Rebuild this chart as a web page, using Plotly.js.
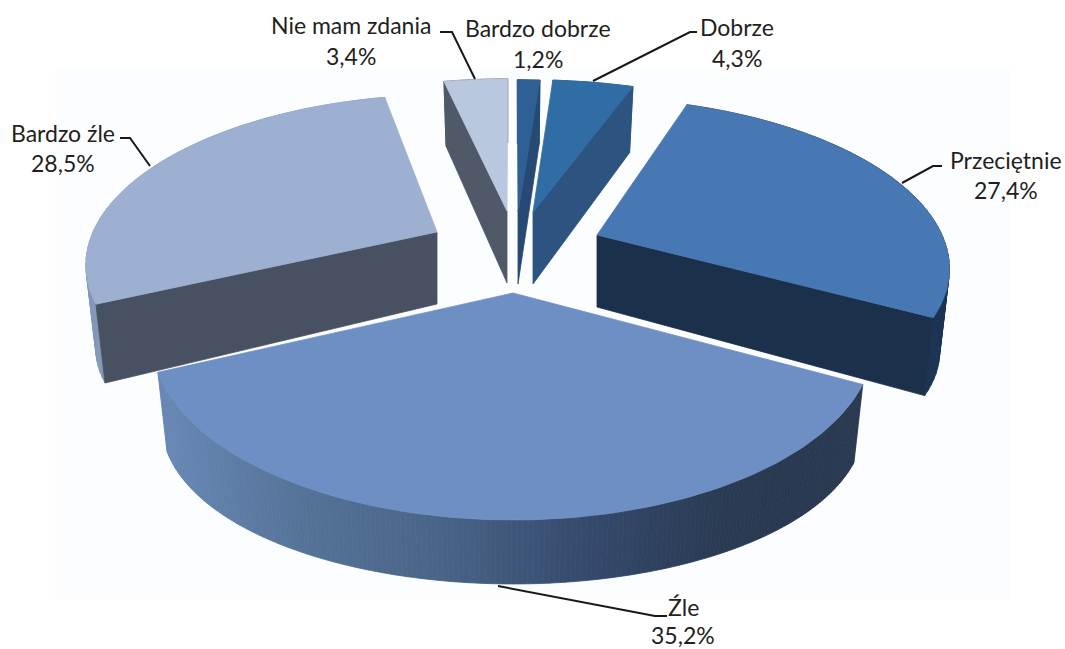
<!DOCTYPE html>
<html><head><meta charset="utf-8">
<script src="https://cdn.plot.ly/plotly-3.0.1.min.js"></script>
<style>html,body{margin:0;padding:0;background:#fff}#c{width:1065px;height:649px}</style>
</head><body><div id="c"></div>
<script>
// Data
const categories = ["Bardzo dobrze","Dobrze","Przeciętnie","Źle","Bardzo źle","Nie mam zdania"];
const shares = [1.2,4.3,27.4,35.2,28.5,3.4];

// Style and layout (one entry per category)
const topColors = ["#2f6095","#316da5","#4778b3","#6d8fc4","#9db0d1","#b9c7df"];
const arcColors = ["#264a73","#2d5380","#1b3453",null,"#8398b8","#4f5968"];
const radialColors = ["#264a73","#2d5380","#1b304a",null,"#475162","#4f5968"];
const radialEdge = ["end","end","end",null,"start","start"];
const apexX = [518,533,597,513,437,507];
const apexY = [212,212,235,293,232,211];
const radiusX = [350,350,345,349,344,350];
const tiltH = [154,154,160,168.5,160,154];
const persp = [0.165,0.165,0.165,0.2576,0.165,0.165];
const drawOrder = [5,0,1,4,2,3];
const nameXY = [[538,28],[737,27],[1006,160],[683,607],[63,133],[351,25]];
const valueXY = [[538,59],[737,58],[1006,190],[683,635],[63,163],[351,56]];
const leaderX = [[475,452,440],[593,690,697],[902,933,942],[498,655,667],[150,130,120]];
const leaderY = [[79,32,32],[81,32,32],[183,166,166],[586,616,616],[166,138,138]];
const viewX = 513;
const zleStops = [[155,[104,136,182]],[300,[85,115,152]],[440,[72,100,135]],[600,[51,72,106]],[730,[42,58,82]],[860,[40,56,80]]];

const total = shares.reduce((a,b)=>a+b,0);
function topPt(i,deg,r){
  const t = deg*Math.PI/180, X = r*Math.sin(t), Y = r*Math.cos(t), s = 1/(1+persp[i]*Y);
  return {x:apexX[i]+radiusX[i]*X*s+(i===3?0:(apexX[i]-viewX)*(s-1)), y:apexY[i]-tiltH[i]*Y*s, X, r};
}
function botPt(i,deg,r){
  const p = topPt(i,deg,r);
  const d = 72 - 8*r*r + 18*p.X*p.X;
  return {x:p.x - 10*p.X, y:p.y + d};
}
function poly(pts,color){
  return {type:'scatter',mode:'lines',x:pts.map(p=>p.x),y:pts.map(p=>p.y),fill:'toself',
    fillcolor:color,line:{color:color,width:0.8},hoverinfo:'skip',showlegend:false};
}
function zleColor(x){
  for(let k=0;k<zleStops.length-1;k++){
    const a=zleStops[k],b=zleStops[k+1];
    if(x<=b[0]){
      const t=Math.max(0,(x-a[0])/(b[0]-a[0]));
      const c=a[1].map((v,j)=>Math.round(v+(b[1][j]-v)*t));
      return `rgb(${c[0]},${c[1]},${c[2]})`;
    }
  }
  const c=zleStops[zleStops.length-1][1];
  return `rgb(${c[0]},${c[1]},${c[2]})`;
}
const traces = [];
let acc = 0; const starts = [], ends = [];
shares.forEach(v=>{starts.push(acc/total*360); acc+=v; ends.push(acc/total*360);});
drawOrder.forEach(i=>{
  const a = starts[i], b = ends[i];
  const n = arcColors[i] ? Math.max(4,Math.ceil((b-a)/2)) : Math.ceil((b-a)*1.5);
  for(let k=0;k<n;k++){
    const d0=a+(b-a)*k/n, d1=a+(b-a)*(k+1)/n;
    const q=[topPt(i,d0,1),topPt(i,d1,1),botPt(i,d1,1),botPt(i,d0,1),topPt(i,d0,1)];
    const col = arcColors[i] || zleColor((q[0].x+q[1].x)/2);
    traces.push(poly(q,col));
  }
  if(radialEdge[i]){
    const d = radialEdge[i]==="end"?b:a;
    traces.push(poly([topPt(i,d,0),topPt(i,d,1),botPt(i,d,1),botPt(i,d,0),topPt(i,d,0)],radialColors[i]));
  }
  const pts=[topPt(i,a,0)];
  const m=Math.max(6,Math.ceil(b-a));
  for(let k=0;k<=m;k++) pts.push(topPt(i,a+(b-a)*k/m,1));
  pts.push(topPt(i,a,0));
  traces.push(poly(pts,topColors[i]));
});
leaderX.forEach((xs,k)=>traces.push({type:'scatter',mode:'lines',x:xs,y:leaderY[k],
  line:{color:'#1a1718',width:2},hoverinfo:'skip',showlegend:false}));

const fmt = v=>v.toFixed(1).replace('.',',')+'%';
const font = {family:'Lato, Carlito, sans-serif',size:23,color:'#231f20'};
const annotations = [];
categories.forEach((c,i)=>{
  annotations.push({x:nameXY[i][0],y:nameXY[i][1],xref:'x',yref:'y',text:c,showarrow:false,font,xanchor:'center',yanchor:'middle'});
  annotations.push({x:valueXY[i][0],y:valueXY[i][1],xref:'x',yref:'y',text:fmt(shares[i]),showarrow:false,font,xanchor:'center',yanchor:'middle'});
});
const hidden = {visible:false,fixedrange:true};
Plotly.newPlot('c',traces,{
  width:1065,height:649,margin:{l:0,r:0,t:0,b:0},
  paper_bgcolor:'#ffffff',plot_bgcolor:'#ffffff',showlegend:false,
  xaxis:{...hidden,range:[0,1065]},
  yaxis:{...hidden,range:[649,0]},
  shapes:[{type:'rect',xref:'x',yref:'y',x0:55,x1:1010,y0:68,y1:600,fillcolor:'#fcfdff',line:{width:0},layer:'below'}],
  annotations
},{displayModeBar:false,responsive:false});
</script></body></html>
